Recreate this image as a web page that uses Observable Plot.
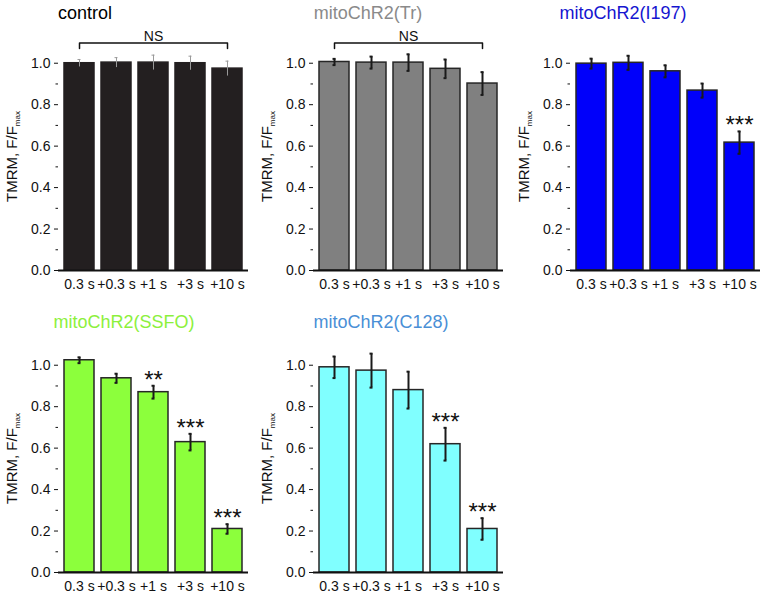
<!DOCTYPE html>
<html><head><meta charset="utf-8">
<script src="https://cdn.jsdelivr.net/npm/d3@7"></script>
<script src="https://cdn.jsdelivr.net/npm/@observablehq/plot@0.6"></script>
<style>
body{margin:0;background:#fff;font-family:"Liberation Sans",Arial,sans-serif;}
#root{position:relative;width:762px;height:594px;overflow:hidden;}
.panel{position:absolute;}
.title{position:absolute;font-size:18px;line-height:18px;white-space:nowrap;}
</style></head>
<body><div id="root"></div>
<script>
const categories = ["0.3 s", "+0.3 s", "+1 s", "+3 s", "+10 s"];
const panelNames = ["control", "mitoChR2(Tr)", "mitoChR2(I197)", "mitoChR2(SSFO)", "mitoChR2(C128)"];
const controlMean = [1.000, 1.003, 1.003, 1.000, 0.974];
const controlErr  = [0.018, 0.024, 0.036, 0.034, 0.036];
const trMean = [1.006, 1.003, 1.003, 0.973, 0.902];
const trErr  = [0.015, 0.029, 0.040, 0.045, 0.055];
const i197Mean = [0.998, 1.002, 0.961, 0.868, 0.617];
const i197Err  = [0.024, 0.034, 0.029, 0.034, 0.054];
const ssfoMean = [1.024, 0.937, 0.870, 0.629, 0.210];
const ssfoErr  = [0.014, 0.022, 0.031, 0.040, 0.023];
const c128Mean = [0.990, 0.974, 0.880, 0.619, 0.210];
const c128Err  = [0.052, 0.082, 0.089, 0.079, 0.052];
const i197Sig = ["", "", "", "", "***"];
const ssfoSig = ["", "", "**", "***", "***"];
const c128Sig = ["", "", "", "***", "***"];
const noSig = ["", "", "", "", ""];
const nsLabel = "NS";

const panels = [
  {name: panelNames[0], mean: controlMean, err: controlErr, sig: noSig, ns: true, fill: "#231f20", stroke: "#231f20", errColor: "#9a9a9a", errW: 1, titleColor: "#000", left: 0, top: 0, titleX: 58, titleAlign: "left"},
  {name: panelNames[1], mean: trMean, err: trErr, sig: noSig, ns: true, fill: "#808080", stroke: "#262626", errColor: "#1a1a1a", errW: 2, titleColor: "#8a8a8a", left: 255, top: 0, titleX: 368, titleAlign: "center"},
  {name: panelNames[2], mean: i197Mean, err: i197Err, sig: i197Sig, ns: false, fill: "#0000fa", stroke: "#262626", errColor: "#1a1a1a", errW: 2, titleColor: "#1515d0", left: 512, top: 0, titleX: 623, titleAlign: "center"},
  {name: panelNames[3], mean: ssfoMean, err: ssfoErr, sig: ssfoSig, ns: false, fill: "#8cff3c", stroke: "#262626", errColor: "#1a1a1a", errW: 2, titleColor: "#8cf03c", left: 0, top: 302, titleX: 124, titleAlign: "center"},
  {name: panelNames[4], mean: c128Mean, err: c128Err, sig: c128Sig, ns: false, fill: "#80ffff", stroke: "#262626", errColor: "#1a1a1a", errW: 2, titleColor: "#4a8fd6", left: 255, top: 302, titleX: 381, titleAlign: "center"}
];

const root = document.getElementById("root");
const W = 250, H = 295;

for (const p of panels) {
  const data = categories.map((c, i) => ({cat: c, v: p.mean[i], lo: p.mean[i] - p.err[i], hi: p.mean[i] + p.err[i], sig: p.sig[i]}));
  const marks = [
    Plot.barY(data, {x: "cat", y: "v", fill: p.fill, stroke: p.stroke, strokeWidth: 1.5}),
    Plot.ruleX(data, {x: "cat", y1: "lo", y2: "hi", stroke: p.errColor, strokeWidth: p.errW}),
    Plot.tickY(data, {x: "cat", y: "hi", stroke: p.errColor, strokeWidth: p.errW, inset: 13.5}),
    Plot.tickY(data, {x: "cat", y: "lo", stroke: p.errColor, strokeWidth: p.errW, inset: 13.5, filter: () => p.name !== panelNames[0]}),
    Plot.text(data.filter(d => d.sig), {x: "cat", y: "hi", text: "sig", fontSize: 24, lineAnchor: "bottom", dy: 2, fill: "#111"}),
    Plot.ruleY([0], {stroke: "#111", strokeWidth: 2}),
    Plot.axisY({ticks: d3.range(0, 1.01, 0.2), tickFormat: d3.format(".1f"), tickSize: 4, tickPadding: 4, fontSize: 14, label: "TMRM, F/F", labelArrow: "none", labelAnchor: "center", labelOffset: 52}),
    Plot.axisY({ticks: d3.range(0.1, 1.1, 0.2), tickFormat: () => "", tickSize: 2.5, label: null}),
    Plot.ruleX([0], {x: () => 0, frameAnchor: "left", y1: 0, y2: 1.1, stroke: "#111", strokeWidth: 2}),
    Plot.axisX({tickSize: 0, tickPadding: 9, fontSize: 14, label: null})
  ];
  if (p.ns) {
    marks.push(
      Plot.line([{x: categories[0], y: 1.071}, {x: categories[0], y: 1.098}, {x: categories[4], y: 1.098}, {x: categories[4], y: 1.071}], {x: "x", y: "y", stroke: "#111", strokeWidth: 1.5}),
      Plot.text([{x: categories[2], y: 1.098, t: nsLabel}], {x: "x", y: "y", text: "t", fontSize: 14, lineAnchor: "bottom", dy: -2, fill: "#111"})
    );
  }
  const chart = Plot.plot({
    width: W, height: H,
    marginLeft: 58, marginRight: 2, marginTop: 42, marginBottom: 25,
    style: {fontFamily: '"Liberation Sans", Arial, sans-serif', fontSize: "14px", color: "#111", background: "transparent", overflow: "visible"},
    x: {domain: categories, paddingInner: 0.19, paddingOuter: 0.16},
    y: {domain: [0, 1.1]},
    marks
  });
  // subscript "max" on the y label
  const lab = chart.querySelector('[aria-label="y-axis label"] text');
  if (lab) {
    const ts = document.createElementNS("http://www.w3.org/2000/svg", "tspan");
    ts.setAttribute("font-size", "8");
    ts.setAttribute("dy", "3");
    ts.textContent = "max";
    lab.appendChild(ts);
    lab.setAttribute("font-size", "15");
  }
  const div = document.createElement("div");
  div.className = "panel";
  div.style.left = p.left + "px";
  div.style.top = p.top + "px";
  div.appendChild(chart);
  root.appendChild(div);

  const t = document.createElement("div");
  t.className = "title";
  t.textContent = p.name;
  t.style.color = p.titleColor;
  t.style.top = (p.top + (p.top > 0 ? 11 : 4)) + "px";
  t.style.left = p.titleX + "px";
  if (p.titleAlign === "center") t.style.transform = "translateX(-50%)";
  root.appendChild(t);
}
</script></body></html>
